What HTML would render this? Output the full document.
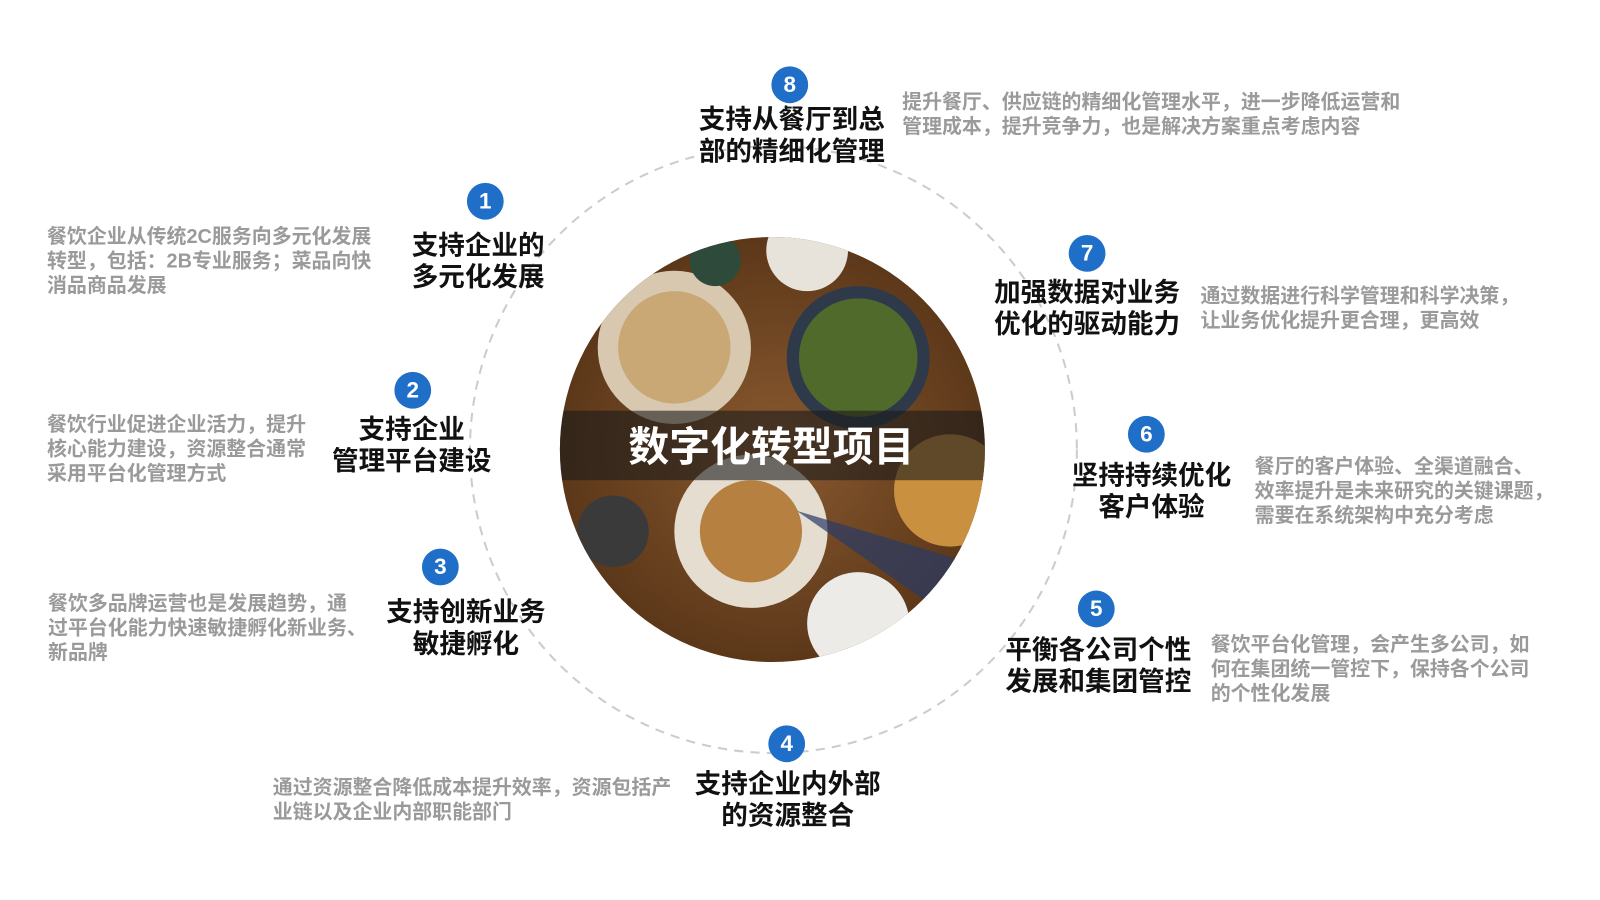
<!DOCTYPE html>
<html><head><meta charset="utf-8">
<style>
body{margin:0;width:1600px;height:900px;background:#fff;position:relative;overflow:hidden;font-family:"Liberation Sans","Noto Sans CJK SC",sans-serif}
#w{position:absolute;left:0;top:0;width:1566px;height:881px;transform:scale(1.0217);transform-origin:0 0}
.b{position:absolute;width:36px;height:36px;margin:-18px 0 0 -18px;border-radius:50%;background:#1f6fc8;color:#fff;font-weight:bold;font-size:22px;line-height:36px;text-align:center}
.t{position:absolute;font-weight:bold;font-size:26px;line-height:31px;color:#111;text-align:center;white-space:nowrap;transform:translateX(-50%)}
.d{position:absolute;font-weight:bold;font-size:19.5px;line-height:24px;color:#9a9a9a;white-space:nowrap}
</style></head><body><div id="w">
<svg width="1566" height="881" style="position:absolute;left:0;top:0">
<defs>
<clipPath id="c"><circle cx="756" cy="440" r="208"/></clipPath>
<radialGradient id="g" cx="50%" cy="50%" r="50%"><stop offset="0" stop-color="#8a5a30"/><stop offset="1" stop-color="#5a3618"/></radialGradient>
</defs>
<circle cx="757" cy="440" r="297" fill="none" stroke="#ccc" stroke-width="2" stroke-dasharray="9 7"/>
<g clip-path="url(#c)">
<rect x="540" y="225" width="440" height="430" fill="url(#g)"/>
<circle cx="840" cy="350" r="70" fill="#2e3a4a"/><circle cx="840" cy="350" r="58" fill="#4f6a2a"/>
<circle cx="660" cy="340" r="75" fill="#d8c8b0"/><circle cx="660" cy="340" r="55" fill="#c9a876"/>
<circle cx="735" cy="520" r="75" fill="#e4ddd0"/><circle cx="735" cy="520" r="50" fill="#b58040"/>
<circle cx="930" cy="480" r="55" fill="#c8903f"/>
<circle cx="840" cy="610" r="50" fill="#ecebe7"/>
<circle cx="600" cy="520" r="35" fill="#3a3a3a"/>
<circle cx="790" cy="245" r="40" fill="#e7e2da"/>
<circle cx="700" cy="255" r="25" fill="#2d4a3a"/>
<polygon points="780,500 980,640 980,560" fill="#2a3a66" opacity="0.7"/>
<rect x="540" y="402" width="440" height="68" fill="#1a1a1a" opacity="0.6"/>
</g>
<text x="755" y="451" text-anchor="middle" font-family="Liberation Sans,Noto Sans CJK SC,sans-serif" font-size="40" font-weight="bold" fill="#fff">数字化转型项目</text>
</svg>

<div class="b" style="left:773px;top:83px">8</div>
<div class="t" style="left:775px;top:102px">支持从餐厅到总<br>部的精细化管理</div>
<div class="d" style="left:883px;top:88px">提升餐厅、供应链的精细化管理水平，进一步降低运营和<br>管理成本，提升竞争力，也是解决方案重点考虑内容</div>

<div class="b" style="left:475px;top:197px">1</div>
<div class="t" style="left:468px;top:225px">支持企业的<br>多元化发展</div>
<div class="d" style="left:46px;top:220px">餐饮企业从传统2C服务向多元化发展<br>转型，包括：2B专业服务；菜品向快<br>消品商品发展</div>

<div class="b" style="left:404px;top:382px">2</div>
<div class="t" style="left:403px;top:405px">支持企业<br>管理平台建设</div>
<div class="d" style="left:46px;top:404px">餐饮行业促进企业活力，提升<br>核心能力建设，资源整合通常<br>采用平台化管理方式</div>

<div class="b" style="left:431px;top:555px">3</div>
<div class="t" style="left:456px;top:584px">支持创新业务<br>敏捷孵化</div>
<div class="d" style="left:47px;top:579px">餐饮多品牌运营也是发展趋势，通<br>过平台化能力快速敏捷孵化新业务、<br>新品牌</div>

<div class="b" style="left:770px;top:728px">4</div>
<div class="t" style="left:771px;top:752px">支持企业内外部<br>的资源整合</div>
<div class="d" style="left:267px;top:759px">通过资源整合降低成本提升效率，资源包括产<br>业链以及企业内部职能部门</div>

<div class="b" style="left:1073px;top:596px">5</div>
<div class="t" style="left:1075px;top:621px">平衡各公司个性<br>发展和集团管控</div>
<div class="d" style="left:1185px;top:619px">餐饮平台化管理，会产生多公司，如<br>何在集团统一管控下，保持各个公司<br>的个性化发展</div>

<div class="b" style="left:1122px;top:425px">6</div>
<div class="t" style="left:1127px;top:450px">坚持持续优化<br>客户体验</div>
<div class="d" style="left:1228px;top:445px">餐厅的客户体验、全渠道融合、<br>效率提升是未来研究的关键课题，<br>需要在系统架构中充分考虑</div>

<div class="b" style="left:1064px;top:248px">7</div>
<div class="t" style="left:1064px;top:271px">加强数据对业务<br>优化的驱动能力</div>
<div class="d" style="left:1175px;top:278px">通过数据进行科学管理和科学决策，<br>让业务优化提升更合理，更高效</div>
</div></body></html>
